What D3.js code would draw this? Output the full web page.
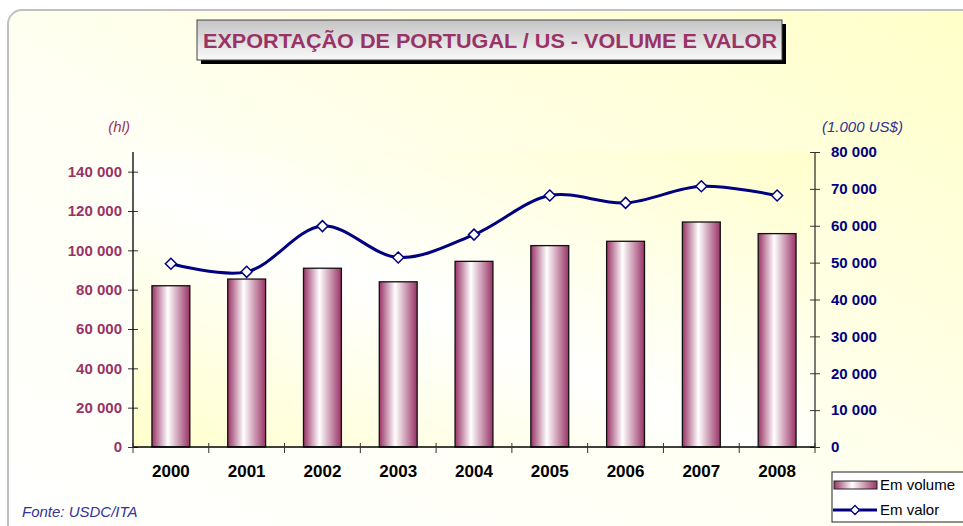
<!DOCTYPE html>
<meta charset="utf-8">
<title>Exportação de Portugal / US</title>
<script src="https://d3js.org/d3.v7.min.js"></script>
<style>
  body { margin: 0; background: #fff; }
  text { font-family: Arial, "Liberation Sans", sans-serif; }
</style>
<body>
</body>
<script>
  width = 963;
  height = 526;

  // data
  const years = ["2000", "2001", "2002", "2003", "2004", "2005", "2006", "2007", "2008"];
  const volume = [82000, 85400, 90900, 84000, 94400, 102400, 104600, 114400, 108500]; // hl
  const valor = [49700, 47500, 59900, 51400, 57600, 68200, 66200, 70700, 68200];      // 1.000 US$
  const leftTicks = [0, 20000, 40000, 60000, 80000, 100000, 120000, 140000];
  const rightTicks = [0, 10000, 20000, 30000, 40000, 50000, 60000, 70000, 80000];

  const plum = "#993366", navy = "#000080";
  const fmt = d => d3.format(",")(d).replace(/,/g, " ");

  const svg = d3.select('body').append("svg").attr("width", width).attr("height", height);
  const defs = svg.append("defs");

  // gradients
  const cardGrad = defs.append("linearGradient").attr("id", "card")
      .attr("x1", 0).attr("y1", 1).attr("x2", 1).attr("y2", 0);
  cardGrad.append("stop").attr("offset", 0).attr("stop-color", "#ffffff");
  cardGrad.append("stop").attr("offset", 0.45).attr("stop-color", "#fffff4");
  cardGrad.append("stop").attr("offset", 1).attr("stop-color", "#ffffc8");

  const plotGrad = defs.append("linearGradient").attr("id", "plot")
      .attr("x1", 0).attr("y1", 1).attr("x2", 1).attr("y2", 0);
  plotGrad.append("stop").attr("offset", 0).attr("stop-color", "#ffffcc");
  plotGrad.append("stop").attr("offset", 0.45).attr("stop-color", "#ffffff");
  plotGrad.append("stop").attr("offset", 1).attr("stop-color", "#ffffcc");

  const barGrad = defs.append("linearGradient").attr("id", "bar")
      .attr("x1", 0).attr("y1", 0).attr("x2", 1).attr("y2", 0);
  barGrad.append("stop").attr("offset", 0).attr("stop-color", plum);
  barGrad.append("stop").attr("offset", 0.42).attr("stop-color", "#ffffff");
  barGrad.append("stop").attr("offset", 1).attr("stop-color", plum);

  const titleGrad = defs.append("linearGradient").attr("id", "title")
      .attr("x1", 0).attr("y1", 0).attr("x2", 0).attr("y2", 1);
  titleGrad.append("stop").attr("offset", 0).attr("stop-color", "#c4c4c4");
  titleGrad.append("stop").attr("offset", 1).attr("stop-color", "#fafafa");

  // card
  svg.append("rect")
      .attr("x", 8).attr("y", 10).attr("width", 980).attr("height", 540)
      .attr("rx", 14)
      .style("fill", "url(#card)").style("stroke", "#c0c0c0").style("stroke-width", 2);

  ////////////////////////////////////////////////////////////
  ///////////////////////// Scales ///////////////////////////
  ////////////////////////////////////////////////////////////

  const x = d3.scaleBand().domain(years).range([133, 815]).paddingInner(0.5).paddingOuter(0.25);
  const yL = d3.scaleLinear().domain([0, 150000]).range([447, 152]);
  const yR = d3.scaleLinear().domain([0, 80000]).range([447, 152]);
  const step = x.step();

  svg.append("rect")
      .attr("x", 133).attr("y", 152).attr("width", 682).attr("height", 295)
      .style("fill", "url(#plot)");

  // title box
  svg.append("rect").attr("x", 201).attr("y", 24).attr("width", 585).attr("height", 40).style("fill", "#000");
  svg.append("rect").attr("x", 197).attr("y", 20).attr("width", 585).attr("height", 40)
      .style("fill", "url(#title)").style("stroke", "#444").style("stroke-width", 1);
  svg.append("text")
      .attr("x", 490).attr("y", 48)
      .attr("text-anchor", "middle")
      .attr("textLength", 574).attr("lengthAdjust", "spacingAndGlyphs")
      .style("font-size", "21px").style("font-weight", "bold").style("fill", plum)
      .text("EXPORTAÇÃO DE PORTUGAL / US - VOLUME E VALOR");

  ////////////////////////////////////////////////////////////
  ////////////////////////// Bars ////////////////////////////
  ////////////////////////////////////////////////////////////

  svg.append("g")
      .selectAll("rect")
      .data(years)
      .join("rect")
      .attr("x", d => x(d))
      .attr("y", (d, i) => yL(volume[i]))
      .attr("width", x.bandwidth())
      .attr("height", (d, i) => yL(0) - yL(volume[i]))
      .style("fill", "url(#bar)")
      .style("stroke", "#111").style("stroke-width", 1.3);

  ////////////////////////////////////////////////////////////
  ////////////////////////// Axes ////////////////////////////
  ////////////////////////////////////////////////////////////

  const axL = svg.append("g").attr("transform", "translate(133,0)")
      .call(d3.axisLeft(yL).tickValues(leftTicks).tickFormat(fmt).tickSizeInner(5).tickSizeOuter(0).tickPadding(6));
  axL.select(".domain").remove();
  axL.selectAll(".tick line").attr("x1", 5).style("stroke", "#333");
  axL.selectAll("text").style("font-size", "15px").style("font-weight", "bold").style("fill", plum);
  axL.append("line").attr("x1", 0).attr("x2", 0).attr("y1", 152).attr("y2", 447).style("stroke", "#000").style("stroke-width", 1.3);

  const axR = svg.append("g").attr("transform", "translate(815,0)")
      .call(d3.axisRight(yR).tickValues(rightTicks).tickFormat(fmt).tickSizeInner(5).tickSizeOuter(0).tickPadding(11));
  axR.select(".domain").remove();
  axR.selectAll(".tick line").attr("x1", -5).style("stroke", "#333");
  axR.selectAll("text").style("font-size", "15px").style("font-weight", "bold").style("fill", navy);
  axR.append("line").attr("x1", 0).attr("x2", 0).attr("y1", 152).attr("y2", 447).style("stroke", "#333").style("stroke-width", 1.3);

  // category axis
  const axB = svg.append("g");
  axB.append("line").attr("x1", 133).attr("x2", 815).attr("y1", 447).attr("y2", 447)
      .style("stroke", "#000").style("stroke-width", 1.5);
  axB.selectAll("line.tk")
      .data(d3.range(years.length + 1))
      .join("line").attr("class", "tk")
      .attr("x1", i => 133 + i * step).attr("x2", i => 133 + i * step)
      .attr("y1", 443).attr("y2", 453)
      .style("stroke", "#333");
  axB.selectAll("text")
      .data(years)
      .join("text")
      .attr("x", d => x(d) + x.bandwidth() / 2)
      .attr("y", 477)
      .attr("text-anchor", "middle")
      .style("font-size", "17px").style("font-weight", "bold").style("fill", "#000")
      .text(d => d);

  // units
  svg.append("text").attr("x", 130).attr("y", 132).attr("text-anchor", "end")
      .style("font-size", "15px").style("font-style", "italic").style("fill", plum).text("(hl)");
  svg.append("text").attr("x", 822).attr("y", 132)
      .style("font-size", "15px").style("font-style", "italic").style("fill", "#333399").text("(1.000 US$)");

  ////////////////////////////////////////////////////////////
  ////////////////////////// Line ////////////////////////////
  ////////////////////////////////////////////////////////////

  const cx = d => x(d) + x.bandwidth() / 2;
  const line = d3.line()
      .x(d => cx(d))
      .y((d, i) => yR(valor[i]))
      .curve(d3.curveCatmullRom.alpha(0.5));

  svg.append("path")
      .datum(years)
      .attr("d", line)
      .style("fill", "none").style("stroke", navy).style("stroke-width", 3);

  const diamond = "M0,-5.5L5.5,0L0,5.5L-5.5,0Z";
  svg.append("g")
      .selectAll("path")
      .data(years)
      .join("path")
      .attr("transform", (d, i) => `translate(${cx(d)},${yR(valor[i])})`)
      .attr("d", diamond)
      .style("fill", "#fff").style("stroke", navy).style("stroke-width", 1.5);

  ////////////////////////////////////////////////////////////
  ///////////////////////// Legend ///////////////////////////
  ////////////////////////////////////////////////////////////

  const lg = svg.append("g");
  lg.append("rect").attr("x", 832).attr("y", 472).attr("width", 140).attr("height", 50)
      .style("fill", "#fff").style("stroke", "#222").style("stroke-width", 1);
  lg.append("rect").attr("x", 834).attr("y", 481).attr("width", 43).attr("height", 8)
      .style("fill", "url(#bar)").style("stroke", "#222").style("stroke-width", 1);
  lg.append("text").attr("x", 880).attr("y", 490)
      .style("font-size", "15px").style("fill", "#000").text("Em volume");
  lg.append("line").attr("x1", 833).attr("x2", 877).attr("y1", 510).attr("y2", 510)
      .style("stroke", navy).style("stroke-width", 3);
  lg.append("path").attr("transform", "translate(855,510)").attr("d", "M0,-4.5L4.5,0L0,4.5L-4.5,0Z")
      .style("fill", "#fff").style("stroke", navy).style("stroke-width", 1.3);
  lg.append("text").attr("x", 880).attr("y", 515)
      .style("font-size", "15px").style("fill", "#000").text("Em valor");

  // source
  svg.append("text").attr("x", 22).attr("y", 517)
      .style("font-size", "15px").style("font-style", "italic").style("fill", "#333399")
      .text("Fonte: USDC/ITA");
</script>
